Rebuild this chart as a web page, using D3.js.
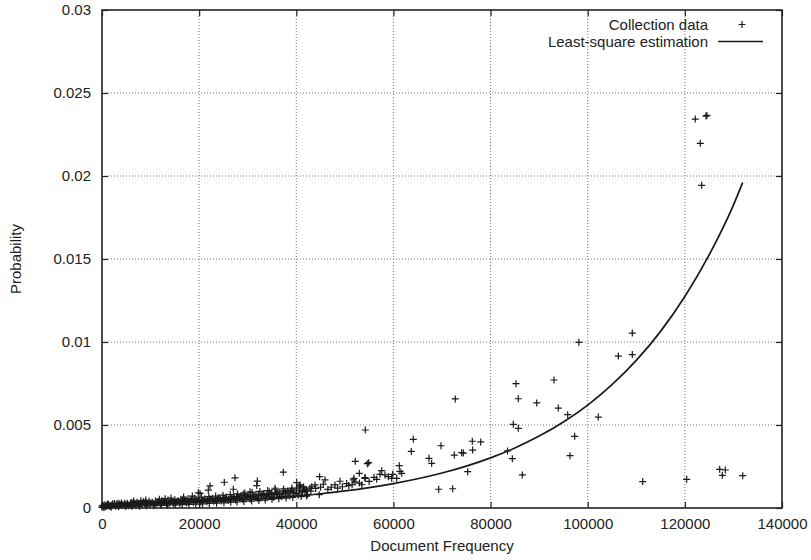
<!DOCTYPE html>
<html>
<head>
<meta charset="utf-8">
<script src="https://cdn.jsdelivr.net/npm/d3@7"></script>
<style>
  body { margin: 0; background: #fff; }
  text { font-family: "Liberation Sans", Arial, Helvetica, sans-serif; }
</style>
</head>
<body>
<svg id="chart"></svg>
<script>
const width = 811;
const height = 560;

// axis ticks
const xTicks = [0, 20000, 40000, 60000, 80000, 100000, 120000, 140000];
const yTicks = [0, 0.005, 0.01, 0.015, 0.02, 0.025, 0.03];

// dense band of collection data (document frequency, probability)
const bandPoints = [
  [0,0.00004],[0,0.00012],[300,0.0001],[600,0.00019],[800,0.00007],[1000,0.00015],[1300,0.00022],[1500,0.00009],
  [1800,0.00017],[2000,0.00012],[2200,0.00025],[2500,0.00019],[2800,0.0001],[3000,0.00022],[3300,0.00028],[3500,0.00014],
  [3800,0.0002],[4000,0.0003],[4300,0.00016],[4600,0.00024],[5000,0.00019],[5200,0.00029],[5500,0.00014],[5800,0.00026],
  [6000,0.00033],[6300,0.0002],[6700,0.00028],[7000,0.00017],[7200,0.00035],[7500,0.00024],[7900,0.0003],[8200,0.00019],
  [8500,0.00038],[8800,0.00026],[9000,0.00032],[9400,0.00021],[9700,0.0004],[10000,0.00028],[10300,0.00035],[10600,0.00022],
  [11000,0.00042],[11300,0.0003],[11600,0.00037],[12000,0.00024],[12300,0.00045],[12600,0.00032],[13000,0.00039],[13300,0.00026],
  [13600,0.00048],[14000,0.00034],[14300,0.00041],[14700,0.00027],[15000,0.0005],[15300,0.00036],[15700,0.00044],[16000,0.00029],
  [16300,0.00053],[16700,0.00039],[17000,0.00046],[17400,0.00031],[17700,0.00056],[18000,0.00041],[18400,0.00049],[18800,0.00033],
  [19100,0.0006],[19500,0.00044],[19800,0.00052],[20200,0.00035],[20500,0.00064],[20800,0.00047],[21200,0.00055],[21600,0.00037],
  [22000,0.00068],[22300,0.0005],[22700,0.00059],[23000,0.0004],[23400,0.00072],[23800,0.00053],[24100,0.00062],[24500,0.00042],
  [24900,0.00077],[25300,0.00057],[25600,0.00066],[26000,0.00045],[26400,0.00081],[26700,0.0006],[27100,0.0007],[27500,0.00048],
  [27900,0.00085],[28200,0.00064],[28600,0.00074],[29000,0.00051],[29400,0.0009],[29800,0.00068],[30100,0.00078],[30500,0.00054],
  [30900,0.00095],[31300,0.00072],[31700,0.00083],[32100,0.00058],[32500,0.001],[32900,0.00076],[33300,0.00087],[33700,0.00061],
  [34100,0.00105],[34500,0.0008],[34900,0.00092],[35300,0.00065],[35700,0.0011],[36100,0.00084],[36500,0.00097],[37000,0.00069],
  [37400,0.00115],[37800,0.00089],[38200,0.00102],[38700,0.00073],[39100,0.0012],[39500,0.00094],[40000,0.00107],[40400,0.00077],
  [40900,0.00126],[41300,0.00099],[41800,0.00113],[42300,0.00082]
];

// second layer of the band, between the first
const bandPoints2 = [
  [200,0.00016],[700,0.00011],[1100,0.00024],[1600,0.00014],[2100,0.00019],[2600,0.00027],[3100,0.00016],[3600,0.00024],
  [4100,0.00021],[4700,0.00029],[5300,0.00022],[5900,0.00018],[6400,0.00031],[6900,0.00023],[7400,0.00029],[8000,0.00024],
  [8600,0.00033],[9200,0.00027],[9800,0.00024],[10400,0.00031],[11000,0.00027],[11500,0.00035],[12100,0.00029],[12700,0.00038],
  [13200,0.00034],[13800,0.00029],[14400,0.00037],[15000,0.00033],[15500,0.00041],[16100,0.00036],[16600,0.00045],[17200,0.00038],
  [17800,0.00036],[18300,0.00045],[18900,0.0004],[19400,0.00049],[20000,0.00043],[20600,0.00041],[21100,0.00051],[21700,0.00046],
  [22200,0.00055],[22800,0.00049],[23300,0.00046],[23900,0.00058],[24400,0.00052],[25000,0.0006],[25500,0.00054],[26100,0.00052],
  [26600,0.00064],[27200,0.00058],[27700,0.00067],[28300,0.0006],[28900,0.00058],[29400,0.00071],[30000,0.00064],[30600,0.00075],
  [31100,0.00068],[31600,0.00064],[32200,0.00078],[32700,0.00071],[33300,0.00081],[33800,0.00074],[34400,0.0007],[34900,0.00086],
  [35500,0.00079],[36000,0.0009],[36600,0.00083],[37200,0.00079],[37700,0.00095],[38300,0.00088],[38800,0.00099],[39400,0.00091],
  [40000,0.00087],[40600,0.00104],[41200,0.00095],[41800,0.00107],
  [6500,0.00042],[8000,0.00044],[9000,0.00048],[11800,0.00053],[13000,0.00056],[14200,0.0006],[16800,0.00066],[18600,0.00072]
];

// lower edge of the band
const bandPoints3 = [
  [400,0.00002],[1900,0.00005],[3400,0.00007],[4900,0.00009],[6200,0.0001],[7700,0.00011],[9100,0.00013],[10700,0.00014],
  [12200,0.00016],[13500,0.00017],[15100,0.00019],[16500,0.0002],[17900,0.00022],[19300,0.00023],[20700,0.00025],[22100,0.00027],
  [23600,0.00029],[25100,0.00031],[26500,0.00034],[27800,0.00036],[29200,0.00039],[30800,0.00042],[32300,0.00045],[33600,0.00048],
  [35000,0.00052],[36400,0.00056],[37900,0.0006],[39300,0.00064],[41000,0.00069]
];

// scattered collection data
const spreadPoints = [
  [19830,0.00092],[20180,0.00088],[21890,0.00108],[22240,0.00133],[25180,0.00155],[27030,0.00113],[27380,0.00182],[29090,0.00084],
  [30470,0.00098],[31850,0.00135],[31980,0.00162],[33210,0.00084],[34440,0.00098],[35620,0.00119],[35960,0.00084],[37330,0.00104],
  [37330,0.00216],[38360,0.00098],[39050,0.00108],[40080,0.00119],[40080,0.00153],[40630,0.00133],[40760,0.00139],[41500,0.00127],
  [42140,0.00072],[42140,0.00108],[42800,0.0012],[43000,0.00102],[43170,0.00128],[43850,0.00139],[44000,0.00118],[44740,0.0008],
  [44800,0.00189],[45000,0.00125],[45560,0.00143],[45910,0.00169],[46500,0.00112],[47200,0.00125],[47970,0.00139],[48500,0.0012],
  [49000,0.00161],[49500,0.00128],[50380,0.00147],[50800,0.00135],[51500,0.0014],[51750,0.00169],[51880,0.00179],[52090,0.00157],
  [52150,0.00281],[52970,0.00209],[53000,0.0015],[53500,0.0014],[54150,0.00179],[54150,0.00183],[54210,0.0047],[54620,0.00267],
  [54900,0.00273],[55000,0.0016],[56000,0.00185],[56550,0.00173],[57230,0.00203],[57580,0.00225],[58260,0.00199],[58950,0.00189],
  [59640,0.00179],[59850,0.00203],[60670,0.00179],[61210,0.00255],[61350,0.00221],[61700,0.00209],
  [63680,0.00341],[64090,0.00414],[67320,0.00299],[67870,0.00269],[69320,0.00113],[69790,0.00375],[72200,0.00116],[72530,0.00319],
  [72740,0.00657],[74050,0.00333],[74400,0.00331],[75290,0.00219],[76240,0.00402],[76310,0.00349],[77970,0.00398],
  [83500,0.00344],[84480,0.00297],[84680,0.00504],[85240,0.00749],[85710,0.0048],[85710,0.00658],[86540,0.00199],[89500,0.00633],
  [93060,0.00771],[93950,0.00602],[95880,0.00562],[96350,0.00315],[97320,0.00432],[98170,0.00998],[102180,0.00548],[106300,0.00915],
  [109180,0.00924],[109180,0.01054],[111320,0.00159],[120370,0.00173],[122150,0.02343],[123180,0.02197],[123460,0.01944],
  [124350,0.02361],[124550,0.02365],[127170,0.00233],[127710,0.00197],[128330,0.00229],[131910,0.00195]
];

// least-square estimation
const fitX = [0,5000,10000,15000,20000,25000,30000,35000,40000,45000,50000,55000,60000,65000,70000,
  75000,80000,85000,90000,95000,100000,105000,110000,115000,120000,125000,130000,131900];
const fitY = [0.00017,0.000204,0.000244,0.000292,0.000349,0.000418,0.0005,0.000599,0.000717,0.000858,0.001027,0.001229,0.001472,0.001761,0.002108,
  0.002524,0.003022,0.003616,0.00433,0.00518,0.0062,0.00743,0.00889,0.01064,0.01274,0.01525,0.01825,0.0196];

const pLeft = 102, pRight = 782, pTop = 10, pBottom = 508;

const x = d3.scaleLinear().domain([0, 140000]).range([pLeft, pRight]);
const y = d3.scaleLinear().domain([0, 0.03]).range([pBottom, pTop]);

const svg = d3.select('#chart')
  .attr('width', width)
  .attr('height', height);

// dotted grid
svg.append('g')
  .selectAll('line')
  .data(xTicks.slice(1, -1))
  .join('line')
    .attr('x1', d => x(d)).attr('x2', d => x(d))
    .attr('y1', pTop).attr('y2', pBottom)
    .style('stroke', '#777')
    .style('stroke-width', 1)
    .style('stroke-dasharray', '1,2');

svg.append('g')
  .selectAll('line')
  .data(yTicks.slice(1, -1))
  .join('line')
    .attr('x1', pLeft).attr('x2', pRight)
    .attr('y1', d => y(d)).attr('y2', d => y(d))
    .style('stroke', '#777')
    .style('stroke-width', 1)
    .style('stroke-dasharray', '1,2');

// axes, ticks pointing in
function styleAxis(g) {
  g.select('.domain').remove();
  g.selectAll('.tick line').style('stroke', '#222').style('stroke-width', 1.2);
  g.selectAll('.tick text')
    .style('fill', '#222')
    .style('font-size', '15px')
    .style('font-family', '"Liberation Sans", Arial, sans-serif');
}

svg.append('g')
  .attr('transform', `translate(0,${pBottom})`)
  .call(d3.axisBottom(x).tickValues(xTicks).tickFormat(d => d).tickSizeInner(-6).tickSizeOuter(0).tickPadding(10))
  .call(styleAxis);

svg.append('g')
  .attr('transform', `translate(${pLeft},0)`)
  .call(d3.axisLeft(y).tickValues(yTicks).tickFormat(d => d).tickSizeInner(-6).tickSizeOuter(0).tickPadding(11))
  .call(styleAxis);

svg.append('g')
  .attr('transform', `translate(0,${pTop})`)
  .call(d3.axisTop(x).tickValues(xTicks).tickFormat('').tickSizeInner(-6).tickSizeOuter(0))
  .call(styleAxis);

svg.append('g')
  .attr('transform', `translate(${pRight},0)`)
  .call(d3.axisRight(y).tickValues(yTicks).tickFormat('').tickSizeInner(-6).tickSizeOuter(0))
  .call(styleAxis);

// border
svg.append('rect')
  .attr('x', pLeft).attr('y', pTop)
  .attr('width', pRight - pLeft).attr('height', pBottom - pTop)
  .style('fill', 'none')
  .style('stroke', '#222')
  .style('stroke-width', 1.6);

// plus markers
const H = 3.5;
function plus(g, px, py) {
  g.append('path')
    .attr('d', `M${px - H},${py}h${2 * H}M${px},${py - H}v${2 * H}`)
    .style('stroke', '#1a1a1a')
    .style('stroke-width', 1.2)
    .style('fill', 'none');
}

const pts = svg.append('g');
bandPoints.concat(bandPoints2, bandPoints3, spreadPoints).forEach(d => plus(pts, x(d[0]), y(d[1])));

// fitted curve
const line = d3.line()
  .x(d => x(d[0]))
  .y(d => y(d[1]))
  .curve(d3.curveMonotoneX);

svg.append('path')
  .datum(fitX.map((v, i) => [v, fitY[i]]))
  .attr('d', line)
  .style('fill', 'none')
  .style('stroke', '#1a1a1a')
  .style('stroke-width', 1.7);

// legend
const lg = svg.append('g');
lg.append('text')
  .attr('x', 708).attr('y', 29.5)
  .attr('text-anchor', 'end')
  .style('font-size', '15px')
  .style('fill', '#222')
  .text('Collection data');
plus(lg, 742, 24.5);

lg.append('text')
  .attr('x', 708).attr('y', 46.5)
  .attr('text-anchor', 'end')
  .style('font-size', '15px')
  .style('fill', '#222')
  .text('Least-square estimation');
lg.append('line')
  .attr('x1', 718).attr('x2', 763)
  .attr('y1', 41.5).attr('y2', 41.5)
  .style('stroke', '#1a1a1a')
  .style('stroke-width', 1.7);

// axis titles
svg.append('text')
  .attr('x', (pLeft + pRight) / 2).attr('y', 551)
  .attr('text-anchor', 'middle')
  .style('font-size', '15px')
  .style('fill', '#222')
  .text('Document Frequency');

svg.append('text')
  .attr('transform', `translate(21,${(pTop + pBottom) / 2}) rotate(-90)`)
  .attr('text-anchor', 'middle')
  .style('font-size', '15px')
  .style('fill', '#222')
  .text('Probability');
</script>
</body>
</html>
